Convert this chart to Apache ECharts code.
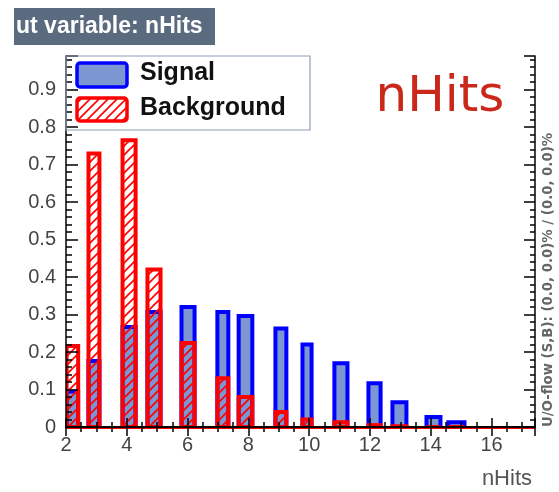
<!DOCTYPE html>
<html><head><meta charset="utf-8">
<script src="https://cdn.jsdelivr.net/npm/echarts@6/dist/echarts.min.js"></script>
<style>html,body{margin:0;padding:0;background:#fff}#c{width:559px;height:492px}</style>
</head><body><div id="c"></div>
<script>
// histogram bins (lower / upper edges in nHits units)
var binLo = [2.02, 2.74, 3.86, 4.68, 5.80, 6.98, 7.68, 8.89, 9.78, 10.83, 11.95, 12.74, 13.86, 14.58];
var binHi = [2.40, 3.10, 4.29, 5.11, 6.23, 7.34, 8.13, 9.25, 10.08, 11.26, 12.35, 13.20, 14.32, 15.11];
var signal     = [0.095, 0.176, 0.267, 0.307, 0.320, 0.307, 0.296, 0.263, 0.220, 0.170, 0.117, 0.066, 0.027, 0.013];
var background = [0.216, 0.730, 0.765, 0.420, 0.224, 0.130, 0.080, 0.040, 0.020, 0.013, 0.005, 0.002, 0.000, 0.000];
var xTicks = [2, 4, 6, 8, 10, 12, 14, 16];
var yTicks = [0, 0.1, 0.2, 0.3, 0.4, 0.5, 0.6, 0.7, 0.8, 0.9];
var xMin = 2, xMax = 17.43, yMin = 0, yMax = 0.99;

var sigData = binLo.map(function(lo, i){ return [lo, binHi[i], signal[i]]; });
var bkgData = binLo.map(function(lo, i){ return [lo, binHi[i], background[i]]; });

// hatch pattern for background
var pc = document.createElement('canvas');
pc.width = 9; pc.height = 9;
var g = pc.getContext('2d');
g.strokeStyle = '#ff0000'; g.lineWidth = 1.6;
g.beginPath();
g.moveTo(-1, 10); g.lineTo(10, -1);
g.moveTo(-5, 5); g.lineTo(5, -5);
g.moveTo(4, 14); g.lineTo(14, 4);
g.stroke();
var hatch = {image: pc, repeat: 'repeat'};

function makeRender(stroke, fill){
  return function(params, api){
    var lo = api.value(0), hi = api.value(1), v = api.value(2);
    var p0 = api.coord([lo, v]), p1 = api.coord([hi, 0]);
    return {type: 'rect',
      shape: {x: p0[0], y: p0[1], width: p1[0] - p0[0], height: p1[1] - p0[1]},
      style: {fill: fill, stroke: stroke, lineWidth: 4}};
  };
}

var chart = echarts.init(document.getElementById('c'), null, {renderer: 'canvas'});
var tickFont = {fontSize: 20, color: '#444', fontFamily: 'Liberation Sans, Arial, sans-serif'};
var axLine = {show: true, lineStyle: {color: '#000', width: 1.5}};
chart.setOption({
  animation: false,
  backgroundColor: '#fff',
  grid: {left: 66, right: 24, top: 56, bottom: 65},
  xAxis: [{
    type: 'value', min: xMin, max: xMax, interval: 2, position: 'bottom', z: 10,
    axisLine: axLine,
    axisTick: {show: true, inside: true, length: 9, lineStyle: {color: '#000', width: 1.5}},
    minorTick: {show: true, splitNumber: 4, length: 5, lineStyle: {color: '#000', width: 1.5}},
    splitLine: {show: false},
    axisLabel: Object.assign({margin: 8, showMaxLabel: false,
      formatter: function(v){ return xTicks.indexOf(v) >= 0 ? String(v) : ''; }}, tickFont)
  }, {
    type: 'value', min: xMin, max: xMax, interval: 2, position: 'top', z: 10,
    axisLine: axLine,
    axisTick: {show: true, inside: true, length: 9, lineStyle: {color: '#000', width: 1.5}},
    minorTick: {show: true, splitNumber: 4, length: 5, lineStyle: {color: '#000', width: 1.5}},
    splitLine: {show: false}, axisLabel: {show: false}
  }],
  yAxis: [{
    type: 'value', min: yMin, max: yMax, interval: 0.1, position: 'left', z: 10,
    axisLine: axLine,
    axisTick: {show: true, inside: true, length: 12, lineStyle: {color: '#000', width: 1.5}},
    minorTick: {show: true, splitNumber: 5, length: 6, lineStyle: {color: '#000', width: 1.5}},
    splitLine: {show: false},
    axisLabel: Object.assign({margin: 10, showMaxLabel: false,
      formatter: function(v){
        for (var i = 0; i < yTicks.length; i++) if (Math.abs(yTicks[i] - v) < 1e-9) return v === 0 ? '0' : yTicks[i].toFixed(1);
        return '';
      }}, tickFont)
  }, {
    type: 'value', min: yMin, max: yMax, interval: 0.1, position: 'right', z: 10,
    axisLine: axLine,
    axisTick: {show: true, inside: true, length: 11, lineStyle: {color: '#000', width: 1.5}},
    minorTick: {show: true, splitNumber: 5, length: 5, lineStyle: {color: '#000', width: 1.5}},
    splitLine: {show: false}, axisLabel: {show: false}
  }],
  series: [{
    name: 'Signal', type: 'custom', clip: true, z: 2,
    renderItem: makeRender('#0000ff', '#7b96d0'),
    encode: {x: [0, 1], y: 2},
    data: sigData
  }, {
    name: 'Background', type: 'custom', clip: true, z: 3,
    renderItem: makeRender('#ff0000', hatch),
    encode: {x: [0, 1], y: 2},
    data: bkgData,
    markLine: {silent: true, symbol: 'none', label: {show: false},
      lineStyle: {color: '#ff0000', width: 3, type: 'solid'},
      data: [{yAxis: 0}]}
  }],
  graphic: [
    {type: 'rect', shape: {x: 14, y: 8, width: 201, height: 37}, style: {fill: '#5b6b7f'}},
    {type: 'text', x: 16, y: 27, style: {text: 'ut variable: nHits', fill: '#fff',
      font: 'bold 23px "Liberation Sans", Arial, sans-serif', textAlign: 'left', textVerticalAlign: 'middle'}},
    {type: 'rect', z: 20, shape: {x: 66, y: 56, width: 244, height: 74},
      style: {fill: 'none', stroke: '#8fa0b5', lineWidth: 1.2}},
    {type: 'rect', z: 20, shape: {x: 77, y: 63, width: 50, height: 24, r: 3},
      style: {fill: '#7b96d0', stroke: '#0000ff', lineWidth: 3.5}},
    {type: 'rect', z: 20, shape: {x: 77, y: 98, width: 50, height: 23, r: 3},
      style: {fill: hatch, stroke: '#ff0000', lineWidth: 3.5}},
    {type: 'text', z: 20, x: 140, y: 73, style: {text: 'Signal', fill: '#111',
      font: 'bold 25px "Liberation Sans", Arial, sans-serif', textAlign: 'left', textVerticalAlign: 'middle'}},
    {type: 'text', z: 20, x: 140, y: 108, style: {text: 'Background', fill: '#111',
      font: 'bold 25px "Liberation Sans", Arial, sans-serif', textAlign: 'left', textVerticalAlign: 'middle'}},
    {type: 'text', z: 20, x: 440, y: 98, style: {text: 'nHits', fill: '#c9281a',
      font: '50px "DejaVu Sans", sans-serif', textAlign: 'center', textVerticalAlign: 'middle'}},
    {type: 'text', z: 20, x: 532, y: 479, style: {text: 'nHits', fill: '#555',
      font: '22px "Liberation Sans", Arial, sans-serif', textAlign: 'right', textVerticalAlign: 'middle'}},
    {type: 'text', z: 20, x: 549, y: 280, rotation: Math.PI / 2,
      style: {text: 'U/O-flow (S,B): (0.0, 0.0)% / (0.0, 0.0)%', fill: '#666',
      font: 'bold 13.3px "DejaVu Sans", sans-serif', textAlign: 'center', textVerticalAlign: 'middle'}}
  ]
});
</script>
</body></html>
